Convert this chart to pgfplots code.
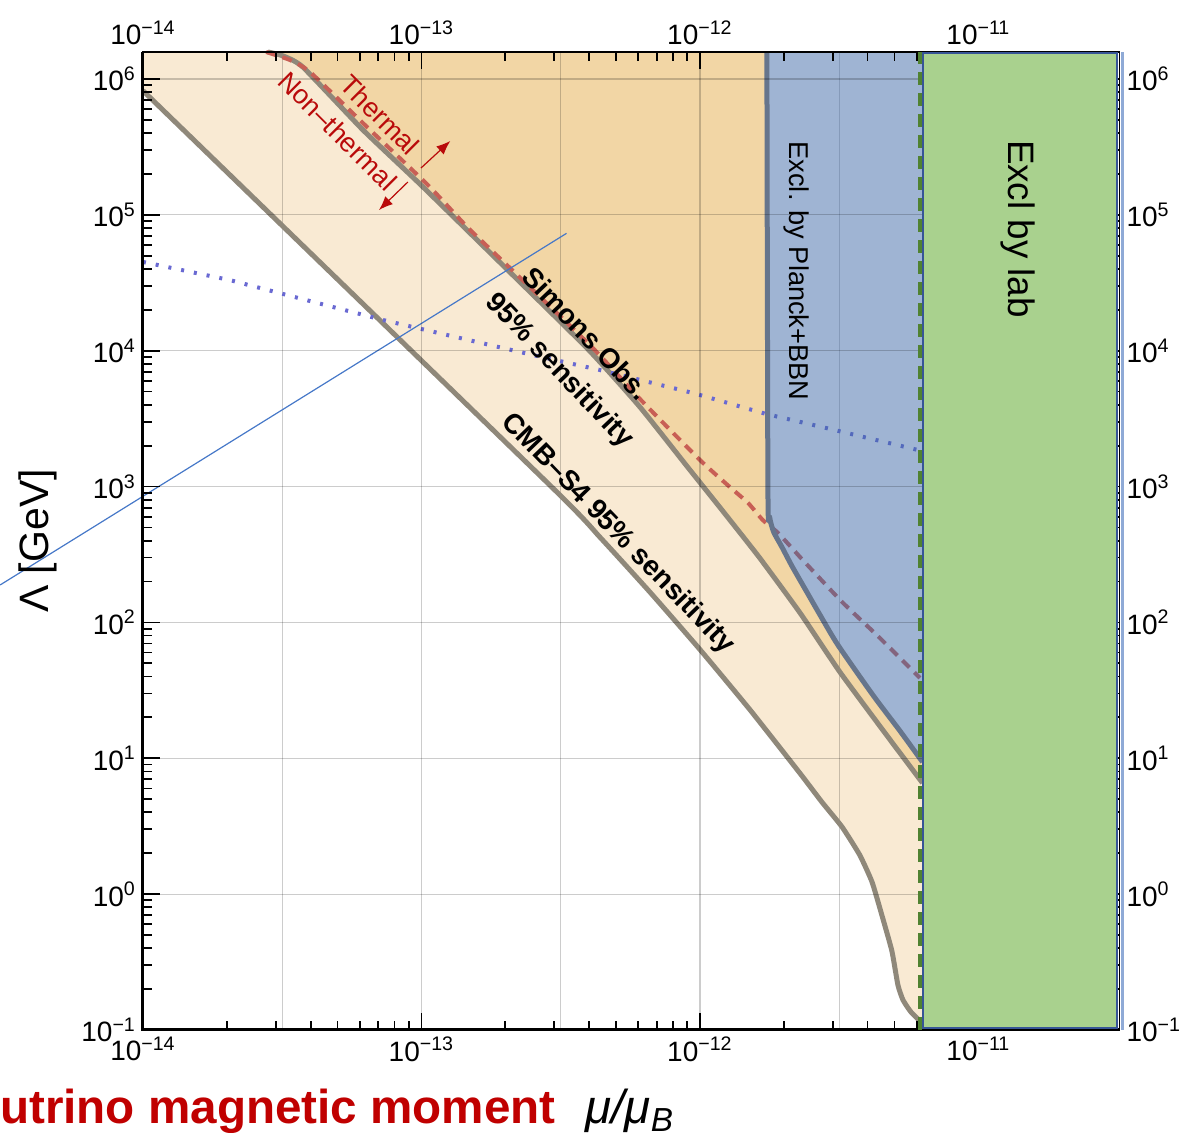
\documentclass[border=0pt]{standalone}
\usepackage{pgfplots}
\pgfplotsset{compat=1.18}
\usepackage{fontspec}
\setmainfont{Liberation Sans}
\usetikzlibrary{arrows.meta}
\definecolor{lighttan}{RGB}{249,234,211}
\definecolor{medtan}{RGB}{242,214,165}
\definecolor{planckblue}{RGB}{63,105,167}
\definecolor{planckedge}{RGB}{102,117,140}
\definecolor{curvegray}{RGB}{143,136,122}
\definecolor{thermred}{RGB}{200,95,85}
\definecolor{dotblue}{RGB}{105,105,210}
\definecolor{labgreen}{RGB}{169,209,142}
\definecolor{labedge}{RGB}{55,85,150}
\definecolor{dashgreen}{RGB}{80,130,50}
\definecolor{thinblue}{RGB}{70,120,200}
\definecolor{darkred}{RGB}{185,10,10}
\definecolor{labelred}{RGB}{192,0,0}
\definecolor{stripblue}{RGB}{143,170,214}

\begin{document}
\begin{tikzpicture}
\begin{axis}[
  scale only axis, width=488.25pt, height=489pt,
  xmode=log, ymode=log,
  xmin=1e-14, xmax=3.21e-11, ymin=0.1, ymax=1.58e6,
  xtick={1e-14,1e-13,1e-12,1e-11},
  xticklabels={10\textsuperscript{−14},10\textsuperscript{−13},10\textsuperscript{−12},10\textsuperscript{−11}},
  ytick={1e-1,1,10,100,1000,1e4,1e5,1e6},
  yticklabels={10\textsuperscript{−1},10\textsuperscript{0},10\textsuperscript{1},10\textsuperscript{2},10\textsuperscript{3},10\textsuperscript{4},10\textsuperscript{5},10\textsuperscript{6}},
  tick label style={font=\fontsize{14}{16}\selectfont},
  clip=false,
  axis on top,
  xmajorgrids, ymajorgrids,
  grid style={line width=0.6pt, draw=black, draw opacity=0.2},
  minor xtick={2e-14,3e-14,4e-14,5e-14,6e-14,7e-14,8e-14,9e-14,2e-13,3e-13,4e-13,5e-13,6e-13,7e-13,8e-13,9e-13,2e-12,3e-12,4e-12,5e-12,6e-12,7e-12,8e-12,9e-12,2e-11,3e-11},
  minor ytick={0.2,0.3,0.4,0.5,0.6,0.7,0.8,0.9,2,3,4,5,6,7,8,9,20,30,40,50,60,70,80,90,200,300,400,500,600,700,800,900,2000,3000,4000,5000,6000,7000,8000,9000,2e4,3e4,4e4,5e4,6e4,7e4,8e4,9e4,2e5,3e5,4e5,5e5,6e5,7e5,8e5,9e5},
  major tick length=8.5pt, minor tick length=4.5pt,
  tick style={line width=0.9pt, black},
  axis line style={line width=0.8pt},
  xlabel={{\color{labelred}\bfseries Neutrino magnetic moment}\hspace{15pt}{\itshape μ/μ\textsubscript{B}}},
  xlabel style={at={(axis description cs:-0.2089,-0.0961)}, anchor=base west, font=\fontsize{23.8}{28}\selectfont, inner sep=0pt},
  ylabel={Λ [GeV]},
  ylabel style={at={(axis description cs:-0.1075,0.5)}, anchor=center, font=\fontsize{20.5}{24}\selectfont, inner sep=0pt},
]
% light tan region (between CMB-S4 and Simons Obs.)
\addplot[fill=lighttan, draw=none] coordinates {
(1e-14,1.58e6) (1e-14,8.2e5) (2.94e-13,990) (4.37e-13,425) (6.61e-13,167.5) (1.0e-12,63.2) (1.51e-12,22.86) (2.29e-12,7.73) (2.74e-12,4.77) (3.24e-12,3.12) (3.75e-12,1.94) (4.15e-12,1.229) (4.50e-12,0.702) (4.89e-12,0.382) (5.14e-12,0.2144) (5.36e-12,0.1663) (5.72e-12,0.136) (6.22e-12,0.1145) (6.30e-12,0.109) (6.30e-12,6.58) (4.62e-12,15.35) (3.18e-12,43.2) (2.29e-12,117.3) (1.63e-12,303) (1.20e-12,672) (9.21e-13,1324) (6.09e-13,3851) (3.99e-13,1.012e4) (1.99e-13,4.13e4) (9.96e-14,1.658e5) (6.17e-14,4.21e5) (3.75e-14,1.225e6) (3.18e-14,1.48e6) (2.81e-14,1.58e6)
} -- cycle;
% medium tan region
\addplot[fill=medtan, draw=none] coordinates {
(2.81e-14,1.58e6) (3.18e-14,1.48e6) (3.75e-14,1.225e6) (6.17e-14,4.21e5) (9.96e-14,1.658e5) (1.99e-13,4.13e4) (3.99e-13,1.012e4) (6.09e-13,3851) (9.21e-13,1324) (1.20e-12,672) (1.63e-12,303) (2.29e-12,117.3) (3.18e-12,43.2) (4.62e-12,15.35) (6.30e-12,6.58) (6.30e-12,9.39) (5.23e-12,15.88) (4.18e-12,29.2) (3.13e-12,68.2) (2.70e-12,113.4) (2.42e-12,167.5) (2.14e-12,260) (1.97e-12,359) (1.84e-12,463) (1.78e-12,597) (1.755e-12,943) (1.74e-12,1.58e6)
} -- cycle;
% half-decade grid lines
\addplot[line width=0.6pt, draw=black, draw opacity=0.2] coordinates {(3.1623e-14,0.1) (3.1623e-14,1.58e6)};
\addplot[line width=0.6pt, draw=black, draw opacity=0.2] coordinates {(3.1623e-13,0.1) (3.1623e-13,1.58e6)};
\addplot[line width=0.6pt, draw=black, draw opacity=0.2] coordinates {(3.1623e-12,0.1) (3.1623e-12,1.58e6)};
% CMB-S4 curve
\addplot[curvegray, line width=2.5pt, line join=round, smooth, tension=0.3] coordinates {
(1e-14,8.2e5) (2.94e-13,990) (4.37e-13,425) (6.61e-13,167.5) (1.0e-12,63.2) (1.51e-12,22.86) (2.29e-12,7.73) (2.74e-12,4.77) (3.24e-12,3.12) (3.75e-12,1.94) (4.15e-12,1.229) (4.50e-12,0.702) (4.89e-12,0.382) (5.14e-12,0.2144) (5.36e-12,0.1663) (5.72e-12,0.136) (6.22e-12,0.1145) (6.30e-12,0.109)
};
% Simons Obs. curve
\addplot[curvegray, line width=2.5pt, line join=round, smooth, tension=0.3] coordinates {
(2.81e-14,1.58e6) (3.18e-14,1.48e6) (3.75e-14,1.225e6) (6.17e-14,4.21e5) (9.96e-14,1.658e5) (1.99e-13,4.13e4) (3.99e-13,1.012e4) (6.09e-13,3851) (9.21e-13,1324) (1.20e-12,672) (1.63e-12,303) (2.29e-12,117.3) (3.18e-12,43.2) (4.62e-12,15.35) (6.30e-12,6.58)
};
% thermal / non-thermal boundary
\addplot[thermred, line width=2pt, dash pattern=on 5pt off 3.5pt, smooth, tension=0.3] coordinates {
(2.77e-14,1.58e6) (3.37e-14,1.38e6) (3.98e-14,1.126e6) (6.43e-14,4.36e5) (1.055e-13,1.658e5) (1.46e-13,8.14e4) (2.08e-13,4.06e4) (4.09e-13,1.065e4) (6.14e-13,4336) (1.0e-12,1569) (1.28e-12,993) (1.49e-12,757) (1.68e-12,568) (1.91e-12,455) (2.34e-12,288) (3.24e-12,141.4) (4.39e-12,78.1) (6.17e-12,39.0)
};
% dotted line
\addplot[dotblue, line width=2pt, dash pattern=on 1.5pt off 5pt] coordinates {
(1e-14,4.50e4) (2.05e-14,3.31e4) (3.85e-14,2.362e4) (7.27e-14,1.683e4) (1.375e-13,1.240e4) (2.51e-13,9298) (4.37e-13,7211) (9.44e-13,4884) (1.73e-12,3421) (2.74e-12,2744) (6.07e-12,1858)
};
% Planck+BBN region
\addplot[fill=planckblue, fill opacity=0.5, draw=none] coordinates {
(1.74e-12,1.58e6) (1.755e-12,943) (1.78e-12,597) (1.84e-12,463) (1.97e-12,359) (2.14e-12,260) (2.42e-12,167.5) (2.70e-12,113.4) (3.13e-12,68.2) (4.18e-12,29.2) (5.23e-12,15.88) (6.30e-12,9.39) (6.30e-12,1.58e6)
} -- cycle;
\addplot[planckedge, line width=2.5pt, line join=round, smooth, tension=0.4] coordinates {
(1.74e-12,1.58e6) (1.755e-12,943) (1.78e-12,597) (1.84e-12,463) (1.97e-12,359) (2.14e-12,260) (2.42e-12,167.5) (2.70e-12,113.4) (3.13e-12,68.2) (4.18e-12,29.2) (5.23e-12,15.88) (6.30e-12,9.39)
};
% thin blue line
\addplot[thinblue, line width=0.6pt] coordinates {(3.07e-15,188.6) (3.32e-13,7.31e4)};
\draw[line width=1.5pt] (rel axis cs:0,1) -- (rel axis cs:0,0) -- (rel axis cs:1,0);
\end{axis}

\begin{axis}[
  scale only axis, width=488.25pt, height=489pt,
  xmode=log, ymode=log,
  xmin=1e-14, xmax=3.21e-11, ymin=0.1, ymax=1.58e6,
  xtick={1e-14,1e-13,1e-12,1e-11},
  xticklabels={10\textsuperscript{−14},10\textsuperscript{−13},10\textsuperscript{−12},10\textsuperscript{−11}},
  ytick={1e-1,1,10,100,1000,1e4,1e5,1e6},
  yticklabels={10\textsuperscript{−1},10\textsuperscript{0},10\textsuperscript{1},10\textsuperscript{2},10\textsuperscript{3},10\textsuperscript{4},10\textsuperscript{5},10\textsuperscript{6}},
  tick label style={font=\fontsize{14}{16}\selectfont},
  clip=false,
  xticklabel pos=upper, yticklabel pos=right,
  axis line style={draw=none},
  major tick length=0pt, minor tick length=0pt,
  tick style={draw=none},
]
\addplot[dashgreen, line width=1.6pt, dash pattern=on 6.5pt off 4pt] coordinates {(6.17e-12,0.1) (6.17e-12,1.58e6)};
\addplot[fill=labgreen, draw=labedge, line width=1pt] coordinates {(6.30e-12,0.104) (3.14e-11,0.104) (3.14e-11,1.55e6) (6.30e-12,1.55e6)} -- cycle;
\addplot[fill=stripblue, draw=none] coordinates {(3.24e-11,0.1) (3.32e-11,0.1) (3.32e-11,1.58e6) (3.24e-11,1.58e6)} -- cycle;
\node[rotate=-46.5, font=\bfseries\fontsize{14}{16}\selectfont] at (axis cs:3.91e-13,1.339e4) {Simons Obs.};
\node[rotate=-46.5, font=\bfseries\fontsize{14}{16}\selectfont] at (axis cs:3.12e-13,7088) {95\% sensitivity};
\node[rotate=-46, font=\bfseries\fontsize{14}{16}\selectfont] at (axis cs:5.08e-13,447.6) {CMB–S4 95\% sensitivity};
\node[rotate=-90, font=\fontsize{13.6}{16}\selectfont] at (axis cs:2.23e-12,3.86e4) {Excl. by Planck+BBN};
\node[rotate=-90, font=\fontsize{18.4}{20}\selectfont] at (axis cs:1.39e-11,7.87e4) {Excl by lab};
\node[rotate=-45, text=darkred, font=\fontsize{13.5}{16}\selectfont] at (axis cs:7.10e-14,5.43e5) {Thermal};
\node[rotate=-45, text=darkred, font=\fontsize{13.5}{16}\selectfont] at (axis cs:5.01e-14,4.14e5) {Non–thermal};
\draw[darkred, line width=0.6pt, -{Latex[length=7pt,width=5.5pt]}] (axis cs:9.96e-14,2.21e5) -- (axis cs:1.27e-13,3.50e5);
\draw[darkred, line width=0.6pt, -{Latex[length=7pt,width=5.5pt]}] (axis cs:8.94e-14,1.744e5) -- (axis cs:7.04e-14,1.085e5);
\end{axis}
\pgfresetboundingbox
\useasboundingbox (-71.5pt,-51.5pt) rectangle (518.5pt,515pt);
\end{tikzpicture}
\end{document}
